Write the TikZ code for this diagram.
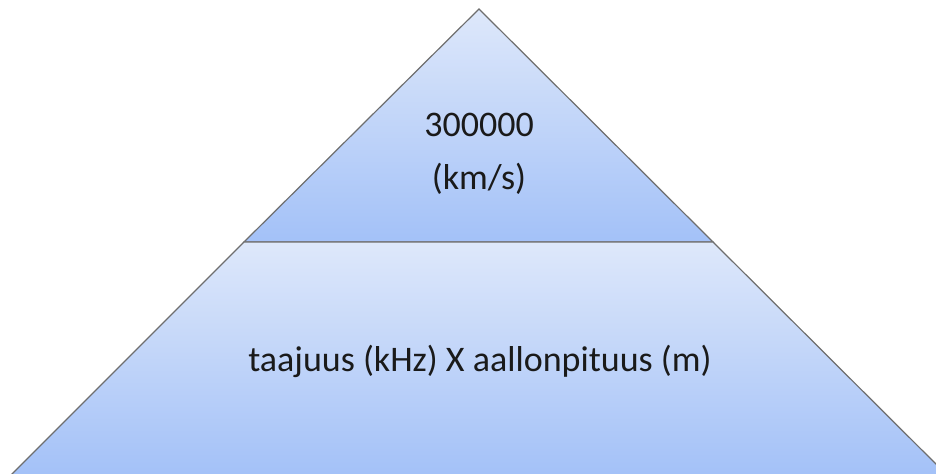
\documentclass[tikz,border=0pt]{standalone}
\usepackage{fontspec}
\setmainfont{Carlito}
\usetikzlibrary{positioning}
\definecolor{edgegray}{HTML}{6E6E6E}
\definecolor{paleblue}{HTML}{DEE8FA}
\definecolor{skyblue}{HTML}{A3C1F8}
\definecolor{textblack}{HTML}{1A1A1A}
\begin{document}
\begin{tikzpicture}[x=0.75pt,y=0.75pt,
  layer/.style={draw=edgegray,line width=0.9pt,line join=miter,top color=paleblue,bottom color=skyblue},
  lbl/.style={font=\fontsize{27}{32}\selectfont,text=textblack,inner sep=0pt,anchor=base}]
\useasboundingbox (0,0) rectangle (936,474);
\clip (0,0) rectangle (936,474);
% pyramid layers
\shade[layer] (244,232) -- (479,465) -- (713,232) -- cycle;
\shade[layer] (10,-2) -- (244,232) -- (713,232) -- (948,-2) -- cycle;
% texts
\node[lbl] (speed) at (479,337) {300000};
\node[lbl] (unit) at (479,284) {(km/s)};
\node[lbl] (product) at (480,102) {taajuus (kHz) X aallonpituus (m)};
\end{tikzpicture}
\end{document}
